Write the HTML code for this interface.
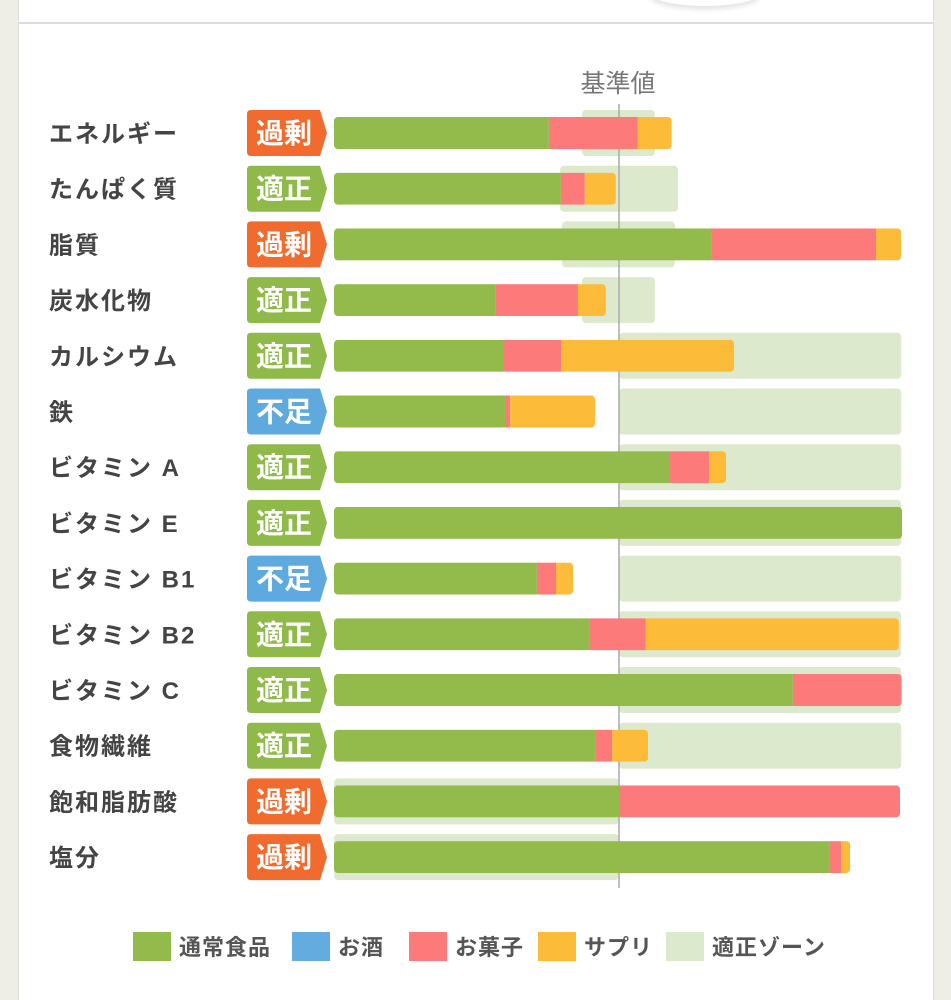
<!DOCTYPE html>
<html><head><meta charset="utf-8">
<style>
body{margin:0;width:951px;height:1000px;background:#eeede6;overflow:hidden;font-family:"Liberation Sans","Noto Sans CJK JP",sans-serif;}
#card{position:absolute;left:18px;top:0;width:914px;height:1000px;background:#fff;border-left:1px solid #ddd;border-right:1px solid #ddd;}
#topline{position:absolute;left:18px;top:22px;width:915px;height:2px;background:#dcdcdc;}
#blob{position:absolute;left:650px;top:-20px;width:110px;height:26px;border-radius:50%;background:#fff;box-shadow:0 3px 6px rgba(0,0,0,0.12);}
svg{position:absolute;left:0;top:0;}
</style></head>
<body>
<div id="card"></div>
<div id="blob"></div>
<div id="topline"></div>
<svg id="chart" width="951" height="1000"></svg>
<script>
const categories=["エネルギー","たんぱく質","脂質","炭水化物","カルシウム","鉄","ビタミン A","ビタミン E","ビタミン B1","ビタミン B2","ビタミン C","食物繊維","飽和脂肪酸","塩分"];
const statuses=["過剰","適正","過剰","適正","適正","不足","適正","適正","不足","適正","適正","適正","過剰","過剰"];
const foodVals=[75.4,79.6,132.3,56.8,59.3,60,117.9,199.3,71.2,89.8,161,91.6,100,173.7];
const alcoholVals=[0,0,0,0,0,0,0,0,0,0,0,0,0,0];
const snackVals=[31.2,8.4,57.9,28.8,20.4,1.8,13.7,0,6.7,19.6,38.2,6,98.6,4.2];
const suppVals=[11.9,10.9,8.8,9.8,60.7,29.8,6,0,6,88.8,0,12.6,0,3.2];
const zoneLo=[87,79.3,80,87,100,100,100,100,100,100,100,100,0,0];
const zoneHi=[112.6,120.7,119.6,112.6,199,199,199,199,199,199,199,199,100,100];
const legendLabels=["通常食品","お酒","お菓子","サプリ","適正ゾーン"];

const NS="http://www.w3.org/2000/svg";
const svg=document.getElementById('chart');
const x0=334,pxPer=2.85,row0=133,rowH=55.7;
const xs=v=>x0+v*pxPer;
const ys=i=>row0+i*rowH;
const colors={food:"#93bb4b",alc:"#62acdf",snack:"#fd7a7a",supp:"#fdbb3a",zone:"#dde9cc"};
const badgeCol={"過剰":"#f26b2e","適正":"#8fba4a","不足":"#5ea9de"};
function el(t,a){const e=document.createElementNS(NS,t);for(const k in a)e.setAttribute(k,a[k]);svg.appendChild(e);return e;}

categories.forEach((c,i)=>{
  const y=ys(i);
  const z=el('rect',{x:xs(zoneLo[i]),y:y-23,width:xs(zoneHi[i])-xs(zoneLo[i]),height:46,rx:4,fill:colors.zone});
  
  
});
const bl=el('line',{x1:619,y1:104,x2:619,y2:888,stroke:"#aaa","stroke-width":1.5});


const bt=el('text',{x:618,y:92,"text-anchor":"middle","font-size":25,fill:"#777"});
bt.textContent="基準値";



categories.forEach((c,i)=>{
  const y=ys(i);
  const lab=el('text',{x:49,y:y+9,"font-size":24,"font-weight":"bold",fill:"#444","letter-spacing":"2"});
  lab.textContent=c;
  
  
  const bc=badgeCol[statuses[i]];
  const b=el('path',{d:`M251 ${y-23} H320 L327 ${y} L320 ${y+23} H251 Q247 ${y+23} 247 ${y+19} V${y-19} Q247 ${y-23} 251 ${y-23} Z`,fill:bc});
  
  
  const bt2=el('text',{x:284,y:y+10,"text-anchor":"middle","font-size":28,"font-weight":"bold",fill:"#fff"});
  bt2.textContent=statuses[i];
  
  
  const segs=[[foodVals[i],colors.food],[alcoholVals[i],colors.alc],[snackVals[i],colors.snack],[suppVals[i],colors.supp]];
  const total=segs.reduce((s,a)=>s+a[0],0);
  const cp=el('clipPath',{id:'cp'+i});
  const cr=document.createElementNS(NS,'rect');
  cr.setAttribute('x',x0);cr.setAttribute('y',y-16);cr.setAttribute('width',xs(total)-x0);cr.setAttribute('height',32);cr.setAttribute('rx',4);
  cp.appendChild(cr);
  let acc=0;
  segs.forEach(([v,col])=>{
    if(v<=0)return;
    const r=el('rect',{x:xs(acc),y:y-16,width:xs(acc+v)-xs(acc),height:32,fill:col,"clip-path":`url(#cp${i})`});
    
    
    acc+=v;
  });
});

const legCols=[colors.food,colors.alc,colors.snack,colors.supp,colors.zone];
const legX=[133,292,409,538,666];
legendLabels.forEach((l,i)=>{
  const r=el('rect',{x:legX[i],y:932,width:38,height:29,fill:legCols[i]});
  
  
  const t=el('text',{x:legX[i]+46,y:955,"font-size":22,"font-weight":"bold",fill:"#555","letter-spacing":"1"});
  t.textContent=l;
  
  
});
</script>
</body></html>
